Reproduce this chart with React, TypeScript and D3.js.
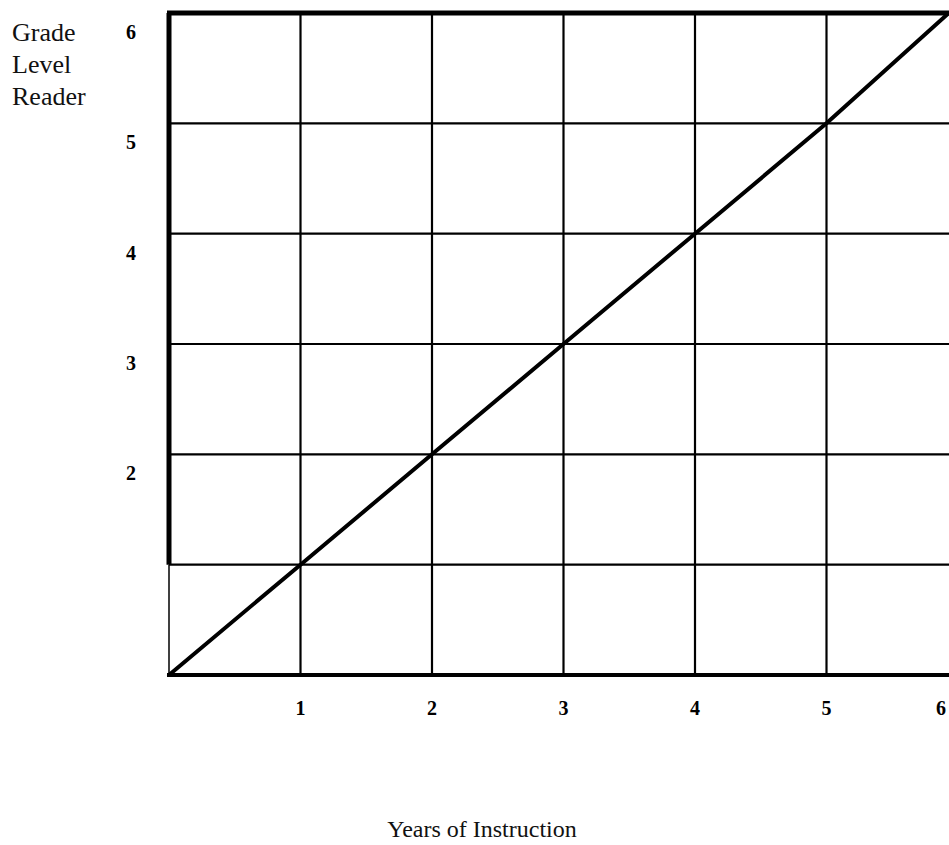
import { useEffect, useRef } from 'react';
import * as d3 from 'd3';

// values
const years = [0, 1, 2, 3, 4, 5, 5.93];
const grades = [0, 1, 2, 3, 4, 5, 6];
const gridTicks = [0, 1, 2, 3, 4, 5, 6];
const xTickLabels = ['1', '2', '3', '4', '5', '6'];
const yTickLabels = ['2', '3', '4', '5', '6'];
const yTitle = ['Grade', 'Level', 'Reader'];
const xTitle = 'Years of Instruction';

export default function App() {
  const svgRef = useRef<SVGSVGElement>(null);

  useEffect(() => {
    if (!svgRef.current) return;

    const width = 949;
    const height = 845;
    const serif = '"Liberation Serif", "Times New Roman", serif';

    d3.select(svgRef.current).selectAll('*').remove();

    const svg = d3
      .select(svgRef.current)
      .attr('width', width)
      .attr('height', height)
      .attr('viewBox', `0 0 ${width} ${height}`);

    const x = d3.scaleLinear().domain([0, 6]).range([169, 958]);
    const y = d3.scaleLinear().domain([0, 6]).range([675, 13]);

    // grid
    const grid = svg.append('g').attr('stroke', '#000').attr('fill', 'none');

    grid
      .selectAll('line.v')
      .data(gridTicks.slice(1, -1))
      .enter()
      .append('line')
      .attr('class', 'v')
      .attr('x1', (d) => x(d))
      .attr('x2', (d) => x(d))
      .attr('y1', y(6))
      .attr('y2', y(0))
      .attr('stroke-width', 2.2);

    grid
      .selectAll('line.h')
      .data(gridTicks.slice(1, -1))
      .enter()
      .append('line')
      .attr('class', 'h')
      .attr('x1', x(0))
      .attr('x2', x(6))
      .attr('y1', (d) => y(d))
      .attr('y2', (d) => y(d))
      .attr('stroke-width', 2.2);

    // frame: thick top, bottom and upper left side, thin lower left side
    grid
      .append('line')
      .attr('x1', x(0) - 2)
      .attr('x2', x(6))
      .attr('y1', y(6))
      .attr('y2', y(6))
      .attr('stroke-width', 5);
    grid
      .append('line')
      .attr('x1', x(0) - 2)
      .attr('x2', x(6))
      .attr('y1', y(0))
      .attr('y2', y(0))
      .attr('stroke-width', 4);
    grid
      .append('line')
      .attr('x1', x(0))
      .attr('x2', x(0))
      .attr('y1', y(6))
      .attr('y2', y(1))
      .attr('stroke-width', 5);
    grid
      .append('line')
      .attr('x1', x(0))
      .attr('x2', x(0))
      .attr('y1', y(1))
      .attr('y2', y(0))
      .attr('stroke-width', 1.5);
    grid
      .append('line')
      .attr('x1', x(6))
      .attr('x2', x(6))
      .attr('y1', y(6))
      .attr('y2', y(0))
      .attr('stroke-width', 4);

    // diagonal line
    const line = d3
      .line<number>()
      .x((d) => x(d))
      .y((_, i) => y(grades[i]));

    svg
      .append('path')
      .datum(years)
      .attr('d', line)
      .attr('fill', 'none')
      .attr('stroke', '#000')
      .attr('stroke-width', 4)
      .attr('stroke-linecap', 'round');

    // tick labels (last one pulled in so it stays on the page)
    svg
      .selectAll('text.xt')
      .data(xTickLabels)
      .enter()
      .append('text')
      .attr('class', 'xt')
      .attr('x', (d) => Math.min(x(+d), width - 8))
      .attr('y', 715)
      .attr('text-anchor', 'middle')
      .attr('font-family', serif)
      .attr('font-weight', 'bold')
      .attr('font-size', 20)
      .text((d) => d);

    svg
      .selectAll('text.yt')
      .data(yTickLabels)
      .enter()
      .append('text')
      .attr('class', 'yt')
      .attr('x', 131)
      .attr('y', (d) => y(+d) + 19)
      .attr('dy', '0.35em')
      .attr('text-anchor', 'middle')
      .attr('font-family', serif)
      .attr('font-weight', 'bold')
      .attr('font-size', 20)
      .text((d) => d);

    // axis titles
    svg
      .append('g')
      .selectAll('text')
      .data(yTitle)
      .enter()
      .append('text')
      .attr('x', 12)
      .attr('y', (_, i) => 41 + i * 32)
      .attr('font-family', serif)
      .attr('font-size', 26)
      .attr('fill', '#111')
      .text((d) => d);

    svg
      .append('text')
      .attr('x', 482)
      .attr('y', 837)
      .attr('text-anchor', 'middle')
      .attr('font-family', serif)
      .attr('font-size', 24)
      .attr('fill', '#111')
      .text(xTitle);
  }, []);

  return (
    <svg
      ref={svgRef}
      style={{ position: 'absolute', left: 0, top: 0, background: '#fff' }}
    />
  );
}
